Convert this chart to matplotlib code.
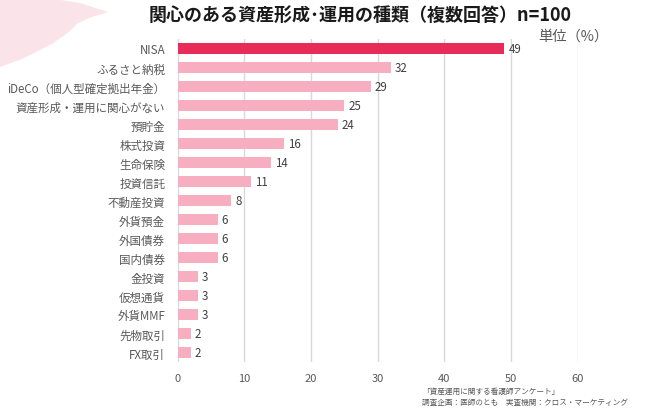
import matplotlib
matplotlib.use("Agg")
import matplotlib.pyplot as plt
from matplotlib.patches import Polygon

plt.rcParams['font.family'] = ['Noto Sans CJK JP', 'DejaVu Sans']

categories = ["NISA", "ふるさと納税", "iDeCo（個人型確定拠出年金）", "資産形成・運用に関心がない",
              "預貯金", "株式投資", "生命保険", "投資信託", "不動産投資", "外貨預金",
              "外国債券", "国内債券", "金投資", "仮想通貨", "外貨MMF", "先物取引", "FX取引"]
values = [49, 32, 29, 25, 24, 16, 14, 11, 8, 6, 6, 6, 3, 3, 3, 2, 2]
xticks = [0, 10, 20, 30, 40, 50, 60]
title = "関心のある資産形成･運用の種類（複数回答）n=100"
unit_label = "単位（%）"
source_lines = ["「資産運用に関する看護師アンケート」",
                "調査企画：医師のとも　実査機関：クロス・マーケティング"]

W, H = 672, 414
fig = plt.figure(figsize=(W / 100, H / 100), dpi=100)

# decorative brush stroke in top-left
bg = fig.add_axes([0, 0, 1, 1])
bg.set_xlim(0, W)
bg.set_ylim(H, 0)
bg.axis("off")
brush = Polygon([(0, 0), (55, 0), (80, 4), (108, 13), (92, 18), (78, 24), (70, 32),
                 (62, 38), (52, 45), (38, 52), (22, 60), (0, 68)],
                closed=True, facecolor="#FBE4E9", edgecolor="none")
bg.add_patch(brush)

ax = fig.add_axes([177.7 / W, 1 - 363 / H, 400 / W, 323 / H])
n = len(categories)
ypos = list(range(n))
colors = ["#E92B59"] + ["#F6AEC0"] * (n - 1)
ax.barh(ypos, values, height=0.58, color=colors, zorder=3)
ax.set_ylim(n - 0.5, -0.5)
ax.set_xlim(0, 60)
ax.set_xticks(xticks)
ax.set_xticklabels([str(t) for t in xticks], fontsize=8, color="#595959")
ax.set_yticks(ypos)
ax.set_yticklabels(categories, fontsize=8.3, color="#595959")
ax.tick_params(axis="both", length=0)
ax.tick_params(axis="y", pad=9)
ax.tick_params(axis="x", pad=8)
ax.grid(axis="x", color="#D9D9D9", linewidth=1, zorder=0)
for s in ax.spines.values():
    s.set_visible(False)

for y, v in zip(ypos, values):
    ax.text(v + 0.6, y, str(v), va="center", ha="left", fontsize=8.3, color="#404040")

fig.text(360 / W, 1 - 15 / H, title, ha="center", va="center", fontsize=13,
         fontweight="bold", color="#1A1A1A")
fig.text(573 / W, 1 - 37 / H, unit_label, ha="center", va="center", fontsize=10.3,
         color="#595959")
fig.text(422 / W, 1 - 392 / H, source_lines[0], ha="left", va="center", fontsize=5.5,
         color="#595959")
fig.text(422 / W, 1 - 403 / H, source_lines[1], ha="left", va="center", fontsize=5.5,
         color="#595959")

fig.savefig("out.png", dpi=100)
